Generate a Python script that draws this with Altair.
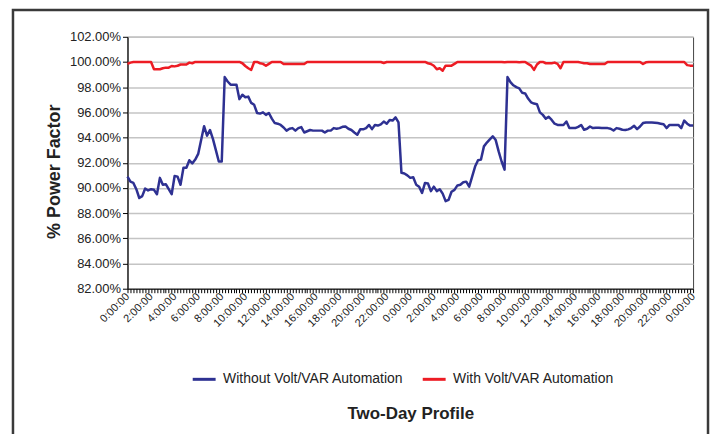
import altair as alt
import pandas as pd

# 15-minute samples over two days (hours from start)
HOURS = [i * 0.25 for i in range(193)]

WITHOUT = [
    90.9, 90.5, 90.4, 89.9, 89.2, 89.35, 89.95, 89.8, 89.9, 89.85,
    89.5, 90.8, 90.25, 90.3, 89.9, 89.5, 90.95, 90.9, 90.25, 91.6,
    91.6, 92.2, 91.95, 92.25, 92.7, 93.8, 94.9, 94.15, 94.6, 93.9,
    93.0, 92.1, 92.1, 98.8, 98.45, 98.2, 98.2, 98.2, 97.05, 97.4,
    97.2, 97.25, 96.75, 96.6, 95.95, 95.9, 96.0, 95.8, 95.95, 95.5,
    95.15, 95.1, 95.0, 94.8, 94.55, 94.7, 94.75, 94.55, 94.75, 94.83,
    94.4, 94.5, 94.6, 94.55, 94.55, 94.55, 94.55, 94.4, 94.55, 94.55,
    94.75, 94.7, 94.75, 94.85, 94.88, 94.7, 94.6, 94.4, 94.22, 94.65,
    94.65, 94.75, 95.0, 94.67, 95.0, 94.95, 95.05, 95.27, 95.1, 95.4,
    95.35, 95.6, 95.2, 91.2, 91.15, 91.0, 90.8, 90.85, 90.26, 90.1,
    89.6, 90.4, 90.35, 89.75, 90.1, 89.75, 89.9, 89.55, 88.95, 89.05,
    89.7, 89.85, 90.2, 90.25, 90.45, 90.5, 90.1, 90.9, 91.7, 92.2,
    92.25, 93.3, 93.6, 93.85, 94.1, 93.8, 92.9, 92.1, 91.45, 98.8,
    98.4, 98.15, 98.0, 97.9, 97.55, 97.5, 97.1, 96.8, 96.7, 96.65,
    96.0, 95.8, 95.5, 95.65, 95.4, 95.1, 95.0, 95.0, 95.0, 95.27,
    94.75, 94.75, 94.75, 94.85, 95.0, 94.62, 94.7, 94.88, 94.75, 94.78,
    94.78, 94.75, 94.75, 94.75, 94.7, 94.56, 94.75, 94.7, 94.62, 94.6,
    94.65, 94.75, 94.93, 94.67, 94.88, 95.15, 95.2, 95.2, 95.2, 95.18,
    95.15, 95.1, 95.05, 94.75, 95.0, 95.0, 95.0, 95.0, 94.75, 95.35,
    95.1, 94.95, 94.95,
]

WITH = [
    99.85, 99.95, 100.0, 100.0, 100.0, 100.0, 100.0, 100.0, 100.0, 99.42,
    99.42, 99.42, 99.5, 99.55, 99.55, 99.68, 99.65, 99.7, 99.8, 99.8,
    99.8, 99.95, 99.9, 100.0, 100.0, 100.0, 100.0, 100.0, 100.0, 100.0,
    100.0, 100.0, 100.0, 100.0, 100.0, 100.0, 100.0, 100.0, 100.0, 99.9,
    99.68, 99.5, 99.37, 100.0, 100.0, 99.9, 99.85, 99.7, 99.85, 100.0,
    100.0, 100.0, 100.0, 99.84, 99.84, 99.84, 99.84, 99.84, 99.84, 99.84,
    99.84, 100.0, 100.0, 100.0, 100.0, 100.0, 100.0, 100.0, 100.0, 100.0,
    100.0, 100.0, 100.0, 100.0, 100.0, 100.0, 100.0, 100.0, 100.0, 100.0,
    100.0, 100.0, 100.0, 100.0, 100.0, 100.0, 100.0, 99.92, 100.0, 100.0,
    100.0, 100.0, 100.0, 100.0, 100.0, 100.0, 100.0, 100.0, 100.0, 100.0,
    100.0, 100.0, 99.9, 99.84, 99.7, 99.42, 99.5, 99.31, 99.71, 99.71,
    99.71, 99.85, 100.0, 100.0, 100.0, 100.0, 100.0, 100.0, 100.0, 100.0,
    100.0, 100.0, 100.0, 100.0, 100.0, 100.0, 100.0, 100.0, 99.97, 100.0,
    100.0, 100.0, 100.0, 99.97, 100.0, 100.0, 99.85, 99.71, 99.37, 99.8,
    100.0, 100.0, 99.9, 99.9, 99.9, 99.95, 99.85, 99.5, 100.0, 100.0,
    100.0, 100.0, 100.0, 100.0, 99.95, 99.9, 99.9, 99.84, 99.84, 99.84,
    99.84, 99.84, 99.84, 100.0, 100.0, 100.0, 100.0, 100.0, 100.0, 100.0,
    100.0, 100.0, 100.0, 100.0, 100.0, 99.84, 99.97, 100.0, 100.0, 100.0,
    100.0, 100.0, 100.0, 100.0, 100.0, 100.0, 100.0, 100.0, 100.0, 100.0,
    99.75, 99.71, 99.71,
]

SERIES = ["Without Volt/VAR Automation", "With Volt/VAR Automation"]
COLORS = ["#2E3192", "#ED1C24"]
Y_TICKS = [82, 84, 86, 88, 90, 92, 94, 96, 98, 100, 102]

FONT = "Liberation Sans"

df = pd.DataFrame({
    "hour": HOURS + HOURS,
    "pf": WITHOUT + WITH,
    "series": [SERIES[0]] * len(WITHOUT) + [SERIES[1]] * len(WITH),
})

lines = alt.Chart(df).mark_line(strokeWidth=2.5, strokeJoin="round").encode(
    x=alt.X(
        "hour:Q",
        scale=alt.Scale(domain=[0, 48], nice=False, zero=False),
        title="Two-Day Profile",
        axis=alt.Axis(
            values=HOURS,
            labelExpr="datum.value % 2 == 0 ? (datum.value % 24) + ':00:00' : ''",
            labelAngle=-45,
            labelAlign="right",
            labelBaseline="middle",
            labelOverlap=False,
            labelFontSize=11,
            labelPadding=2,
            tickSize=4,
            grid=False,
            titleFontSize=17,
            titleFontWeight="bold",
            titlePadding=78,
        ),
    ),
    y=alt.Y(
        "pf:Q",
        scale=alt.Scale(domain=[82, 102], nice=False, zero=False),
        title="% Power Factor",
        axis=alt.Axis(
            values=Y_TICKS,
            labelExpr="format(datum.value, '.2f') + '%'",
            labelFontSize=13,
            labelPadding=2,
            tickSize=5,
            grid=True,
            gridColor="#c4c4c4",
            gridWidth=1.5,
            titleFontSize=18,
            titleFontWeight="bold",
            titlePadding=6,
            titleY=135,
        ),
    ),
    color=alt.Color(
        "series:N",
        scale=alt.Scale(domain=SERIES, range=COLORS),
        legend=alt.Legend(
            title=None,
            orient="none",
            legendX=64,
            legendY=331,
            direction="horizontal",
            symbolType="stroke",
            symbolStrokeWidth=3,
            symbolSize=529,
            labelFontSize=14,
            labelFont=FONT,
            labelColor="#222",
            labelLimit=400,
            labelOffset=6,
            columnPadding=12,
        ),
    ),
)

frame = alt.Chart(pd.DataFrame({"k": [0]})).mark_rect(
    fill="transparent", stroke="#3a3a3a", strokeWidth=2.5
).encode(
    x=alt.value(-115), x2=alt.value(583), y=alt.value(-27), y2=alt.value(430)
)

chart = alt.layer(frame, lines).properties(
    width=568,
    height=253,
    autosize="none",
    padding={"left": 120, "top": 28, "right": 18, "bottom": 145},
).configure_view(
    stroke="#444", strokeWidth=1
).configure_axis(
    labelFont=FONT,
    titleFont=FONT,
    labelColor="#222",
    titleColor="#222",
    domainColor="#000",
    tickColor="#000",
    domainWidth=1,
)

chart.save("out.html", embed_options={"renderer": "svg", "actions": False})
